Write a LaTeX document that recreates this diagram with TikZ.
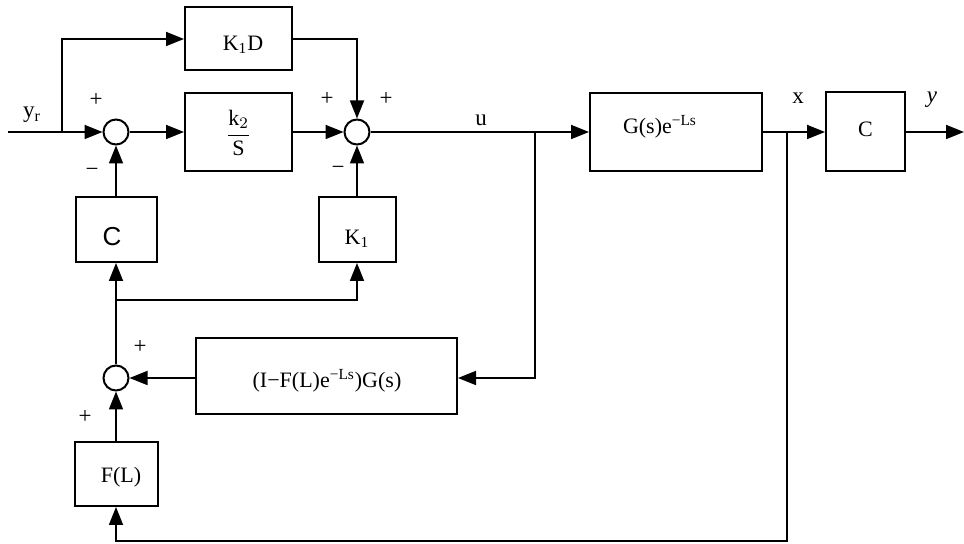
\documentclass[tikz,border=0pt]{standalone}
\usepackage{amsmath}
\usepackage{fontspec}
\setmainfont{Liberation Serif}
\setsansfont{Liberation Sans}
\usetikzlibrary{arrows.meta}
\tikzset{
  blk/.style={draw, line width=1pt, minimum width=#1, inner sep=0pt},
  sumc/.style={draw, circle, line width=1pt, minimum size=12.5pt, inner sep=0pt},
  sig/.style={line width=0.9pt, -{Triangle[length=9pt,width=7pt]}},
  lbl/.style={inner sep=0pt, font=\fontsize{11.5}{13}\selectfont},
  txt/.style={inner sep=0pt, font=\fontsize{11}{13}\selectfont}
}
\begin{document}
\begin{tikzpicture}[x=0.5pt,y=-0.5pt]
\useasboundingbox (0,0) rectangle (964,544);
% blocks
\node[blk=53.5pt, minimum height=31.5pt] (kd) at (238.5,39) {};
\node[txt] at (243,45) {K\textsubscript{1}D};
\node[blk=53.5pt, minimum height=39pt] (ks) at (238.5,132) {};
\node[txt] at (238.5,133) {$\dfrac{\text{k}_2}{\text{S}}$};
\node[sumc] (s1) at (116,132) {};
\node[sumc] (s2) at (357,132) {};
\node[blk=40.5pt, minimum height=32.5pt] (cl) at (116,229.5) {};
\node[txt, font=\sffamily\fontsize{13}{15}\selectfont] at (112,237) {C};
\node[blk=38.5pt, minimum height=32.5pt] (k1) at (357,229.5) {};
\node[txt] at (357,239) {K\textsubscript{1}};
\node[blk=86pt, minimum height=39pt] (g) at (676,132) {};
\node[txt] at (660,127) {G(s)e\textsuperscript{−Ls}};
\node[blk=39.5pt, minimum height=39.5pt] (cr) at (865.5,132) {};
\node[txt] at (865.5,129) {C};
\node[blk=130.5pt, minimum height=38pt] (big) at (326.5,376) {};
\node[txt] at (327,381) {(I−F(L)e\textsuperscript{−Ls})G(s)};
\node[sumc] (s3) at (116,378) {};
\node[blk=41.5pt, minimum height=32pt] (fl) at (116,474) {};
\node[txt] at (121,477) {F(L)};
% coordinates
\coordinate (in) at (8,132);
\coordinate (b1) at (62,132);
\coordinate (bu) at (535,132);
\coordinate (bud) at (535,378);
\coordinate (bx) at (787,132);
\coordinate (bxd) at (787,541);
\coordinate (bl) at (116,541);
\coordinate (bk) at (116,300);
\coordinate (bkr) at (357,300);
\coordinate (out) at (964,132);
% connectors
\draw[sig] (in) -- (s1);
\draw[sig] (b1) -- (b1 |- kd.west) -- (kd.west);
\draw[sig] (s1) -- (ks.west);
\draw[sig] (ks.east) -- (s2);
\draw[sig] (kd.east) -- (kd.east -| s2) -- (s2);
\draw[sig] (s2) -- (g.west);
\draw[sig] (bu) -- (bud) -- (big.east |- bud);
\draw[sig] (g.east) -- (cr.west);
\draw[sig] (cr.east) -- (out);
\draw[sig] (bx) -- (bxd) -- (bl) -- (fl.south);
\draw[sig] (cl.north) -- (s1);
\draw[sig] (k1.north) -- (s2);
\draw[sig] (s3) -- (cl.south);
\draw[sig] (bk) -- (bkr) -- (k1.south);
\draw[sig] (big.west |- s3) -- (s3);
\draw[sig] (fl.north) -- (s3);
% labels
\node[lbl] at (32,115) {y\textsubscript{r}};
\node[lbl] at (96,100) {+};
\node[lbl] at (92,172) {−};
\node[lbl] at (327,99) {+};
\node[lbl] at (386,99) {+};
\node[lbl] at (338,170) {−};
\node[lbl] at (481,120) {u};
\node[lbl] at (798,98) {x};
\node[lbl] at (932,100) {\textit{y}};
\node[lbl] at (140,347) {+};
\node[lbl] at (85,417) {+};
\end{tikzpicture}
\end{document}
